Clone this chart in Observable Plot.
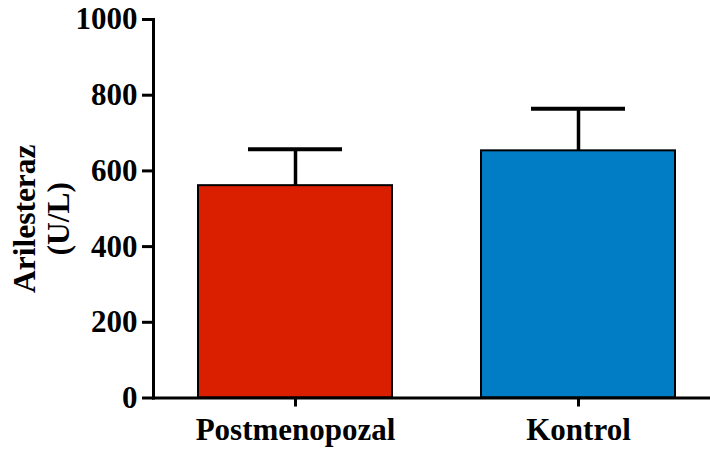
<!DOCTYPE html>
<html>
<head>
<meta charset="utf-8">
<script src="https://cdn.jsdelivr.net/npm/d3@7"></script>
<script src="https://cdn.jsdelivr.net/npm/@observablehq/plot@0.6"></script>
<style>
  html, body { margin: 0; padding: 0; background: #ffffff; }
  #chart svg { display: block; }
</style>
</head>
<body>
<div id="chart"></div>
<script>
const groups = ["Postmenopozal", "Kontrol"];
const means = [561, 653];
const sds = [96, 111];
const colors = ["#DA1F00", "#017DC5"];
const yTicks = [0, 200, 400, 600, 800, 1000];
const yLabel = "Arilesteraz\n(U/L)";

const data = groups.map((g, i) => ({group: g, mean: means[i], upper: means[i] + sds[i], color: colors[i]}));

const font = "'Liberation Serif', 'Times New Roman', serif";

const chart = Plot.plot({
  width: 710,
  height: 452,
  marginLeft: 153,
  marginRight: 0,
  marginTop: 19,
  marginBottom: 54.5,
  style: {fontFamily: font, fontWeight: "bold", fontSize: "31px", color: "#000", background: "#fff"},
  x: {domain: groups, paddingInner: 0.316, paddingOuter: 0.14, align: 0.56, axis: null},
  y: {domain: [0, 1000], axis: null},
  marks: [
    Plot.ruleX(data, {x: "group", y1: "mean", y2: "upper", stroke: "#000", strokeWidth: 3.5}),
    Plot.tickY(data, {x: "group", y: "upper", stroke: "#000", strokeWidth: 4, insetLeft: 50, insetRight: 50}),
    Plot.barY(data, {x: "group", y: "mean", fill: "color", stroke: "#000", strokeWidth: 2}),
    Plot.frame({anchor: "left", stroke: "#000", strokeWidth: 3}),
    Plot.frame({anchor: "bottom", stroke: "#000", strokeWidth: 3}),
    Plot.axisY({ticks: yTicks, tickSize: 11, tickPadding: 5, strokeWidth: 3, fontSize: 31, fontWeight: "bold", label: null, tickFormat: d => String(d)}),
    Plot.axisX({tickSize: 9, tickPadding: 11, strokeWidth: 3, fontSize: 31, fontWeight: "bold", label: null}),
    Plot.text([yLabel], {text: d => d, frameAnchor: "left", rotate: -90, dx: -112, dy: 10, fontSize: 31.5, fontWeight: "bold", lineHeight: 1.08, textAnchor: "middle", lineAnchor: "middle"})
  ]
});

document.getElementById("chart").appendChild(chart);
</script>
</body>
</html>
